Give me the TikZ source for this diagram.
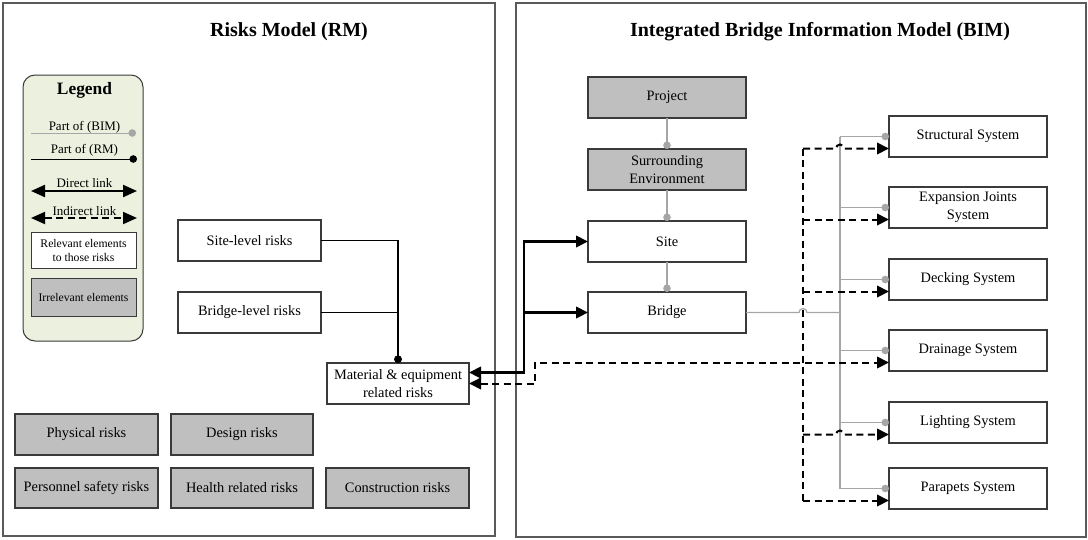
\documentclass[tikz,border=0pt]{standalone}
\usepackage{fontspec}
\setmainfont{Liberation Serif}
\usetikzlibrary{arrows.meta,calc}
\definecolor{boxgray}{HTML}{BFBFBF}
\definecolor{legfill}{HTML}{EBF1DE}
\definecolor{linegray}{HTML}{A6A6A6}
\definecolor{edge}{HTML}{3A3A3A}
\definecolor{paneledge}{HTML}{5A5A5A}
\begin{document}
\begin{tikzpicture}[x=1pt,y=-1pt,
  every node/.style={inner sep=0pt, outer sep=0pt, text=black},
  box/.style={draw=edge, line width=1.1pt, fill=white, minimum width=#1, minimum height=41pt, align=center, font=\fontsize{14.4}{17.5}\selectfont},
  box/.default=143pt,
  gbox/.style={box=#1, fill=boxgray},
  gbox/.default=143pt,
  panel/.style={draw=paneledge, line width=1.2pt},
  ttl/.style={font=\fontsize{20}{24}\selectfont\bfseries},
  legtxt/.style={font=\fontsize{13}{15}\selectfont},
  legbox/.style={draw=edge, line width=1pt, minimum width=105pt, align=center, font=\fontsize{11.7}{14}\selectfont},
  conn/.style={draw=black, line width=1.1pt},
  gconn/.style={draw=linegray, line width=1.2pt},
  dotend/.style={-{Circle[length=7.5pt]}},
  direct/.style={draw=black, line width=2.2pt},
  indirect/.style={draw=black, line width=2pt, dash pattern=on 7pt off 4.5pt},
  tri/.tip={Triangle[length=12pt,width=11.5pt]},
  ltri/.tip={Triangle[length=14pt,width=12pt]}
]
\useasboundingbox (0,0) rectangle (1088,539);

% panels
\node[panel, minimum width=492pt, minimum height=533pt] (rmp) at (249,269.5) {};
\node[panel, minimum width=570pt, minimum height=534pt] (bimp) at (801,270) {};
\node[ttl] (rmt) at (289,32) {Risks Model (RM)};
\node[ttl] (bimt) at (820,32) {Integrated Bridge Information Model (BIM)};

% legend
\node[draw=edge, line width=1pt, fill=legfill, rounded corners=12pt, minimum width=120pt, minimum height=266pt] (leg) at (83,208) {};
\node[font=\fontsize{17.4}{20}\selectfont\bfseries] (legh) at (84.5,90) {Legend};
\node[legtxt] (lt1) at (84.5,127) {Part of (BIM)};
\node[legtxt] (lt2) at (84.5,150) {Part of (RM)};
\node[legtxt] (lt3) at (84.5,183) {Direct link};
\node[legtxt] (lt4) at (84.5,211) {Indirect link};
\coordinate (l1a) at (31,133); \coordinate (l1b) at (136,133);
\coordinate (l2a) at (31,159); \coordinate (l2b) at (137,159);
\coordinate (l3a) at (31,191); \coordinate (l3b) at (137,191);
\coordinate (l4a) at (31,218); \coordinate (l4b) at (137,218);
\draw[gconn, line width=1pt, dotend] (l1a) -- (l1b);
\draw[conn, line width=1pt, dotend] (l2a) -- (l2b);
\draw[direct, ltri-ltri] (l3a) -- (l3b);
\draw[indirect, ltri-ltri] (l4a) -- (l4b);
\node[legbox, fill=white, minimum height=36pt] (lrel) at (83.5,250) {Relevant elements\\to those risks};
\node[legbox, fill=boxgray, minimum height=38pt] (lirr) at (83.5,297) {Irrelevant elements};

% risks model nodes
\node[box] (sl) at (249.5,240.5) {Site-level risks};
\node[box] (bl) at (249.5,312.5) {Bridge-level risks};
\node[box=142pt] (mat) at (398,383.5) {Material \& equipment\\related risks};
\node[gbox] (phy) at (86.5,434.5) {Physical risks};
\node[gbox=142pt] (des) at (242,434.5) {Design risks};
\node[gbox, minimum height=40pt] (per) at (86.5,488) {Personnel safety risks};
\node[gbox=142pt, minimum height=40pt] (hea) at (242,488) {Health related risks};
\node[gbox, minimum height=40pt] (con) at (397.5,488) {Construction risks};

% BIM central column
\node[gbox=158pt] (proj) at (667,97.5) {Project};
\node[gbox=158pt] (surr) at (667,169.5) {Surrounding\\Environment};
\node[box=158pt] (site) at (667,241.5) {Site};
\node[box=158pt] (bridge) at (667,312.5) {Bridge};

% BIM systems
\node[box=158pt] (s1) at (968,136.5) {Structural System};
\node[box=158pt] (s2) at (968,207.5) {Expansion Joints\\System};
\node[box=158pt] (s3) at (968,279.5) {Decking System};
\node[box=158pt] (s4) at (968,350.5) {Drainage System};
\node[box=158pt] (s5) at (968,422.5) {Lighting System};
\node[box=158pt] (s6) at (968,488.5) {Parapets System};

% gray "part of BIM" connectors
\draw[gconn, dotend] (proj.south) -- (surr.north);
\draw[gconn, dotend] (surr.south) -- (site.north);
\draw[gconn, dotend] (site.south) -- (bridge.north);
\coordinate (tx) at (840,0);
\coordinate (bx) at (803,0);
\draw[gconn] (tx |- s1.west) -- (tx |- s6.west);
\foreach \s in {s1,s2,s3,s4,s5,s6}{
  \draw[gconn, dotend] (tx |- \s.west) -- (\s.west);
}
\draw[gconn] (bridge.east) -- ($(bridge.east -| bx)+(-4,0)$) arc[start angle=180, end angle=0, radius=4pt] -- (bridge.east -| tx);

% black "part of RM" connectors
\draw[conn, dotend] (sl.east) -| (mat.north);
\draw[conn] (bl.east) -- (bl.east -| mat.north);
\draw[conn, line width=1.8pt, dotend] (bl.east -| mat.north) -- (mat.north);

% direct links
\draw[direct, tri-tri] ([yshift=11pt]mat.east) -| ($(site.west)+(-64,0)$) -- (site.west);
\draw[direct, -tri] ($(bridge.west)+(-64,0)$) -- (bridge.west);

% indirect links
\foreach \s/\d in {s1/d1,s2/d2,s3/d3,s4/d4,s5/d5,s6/d6}{
  \coordinate (\d) at ([yshift=-12pt]\s.west);
}
\draw[indirect] (d1 -| bx) -- (d6 -| bx);
\draw[indirect, -tri] (d1 -| bx) -- ($(d1 -| tx)+(-4,0)$) arc[start angle=180, end angle=0, radius=4pt] -- (d1);
\draw[indirect, -tri] (d2 -| bx) -- (d2);
\draw[indirect, -tri] (d3 -| bx) -- (d3);
\draw[indirect, tri-tri] (mat.east) -- ++(66,0) |- (d4);
\draw[indirect, -tri] (d5 -| bx) -- ($(d5 -| tx)+(-4,0)$) arc[start angle=180, end angle=0, radius=4pt] -- (d5);
\draw[indirect, -tri] (d6 -| bx) -- (d6);
\end{tikzpicture}
\end{document}
